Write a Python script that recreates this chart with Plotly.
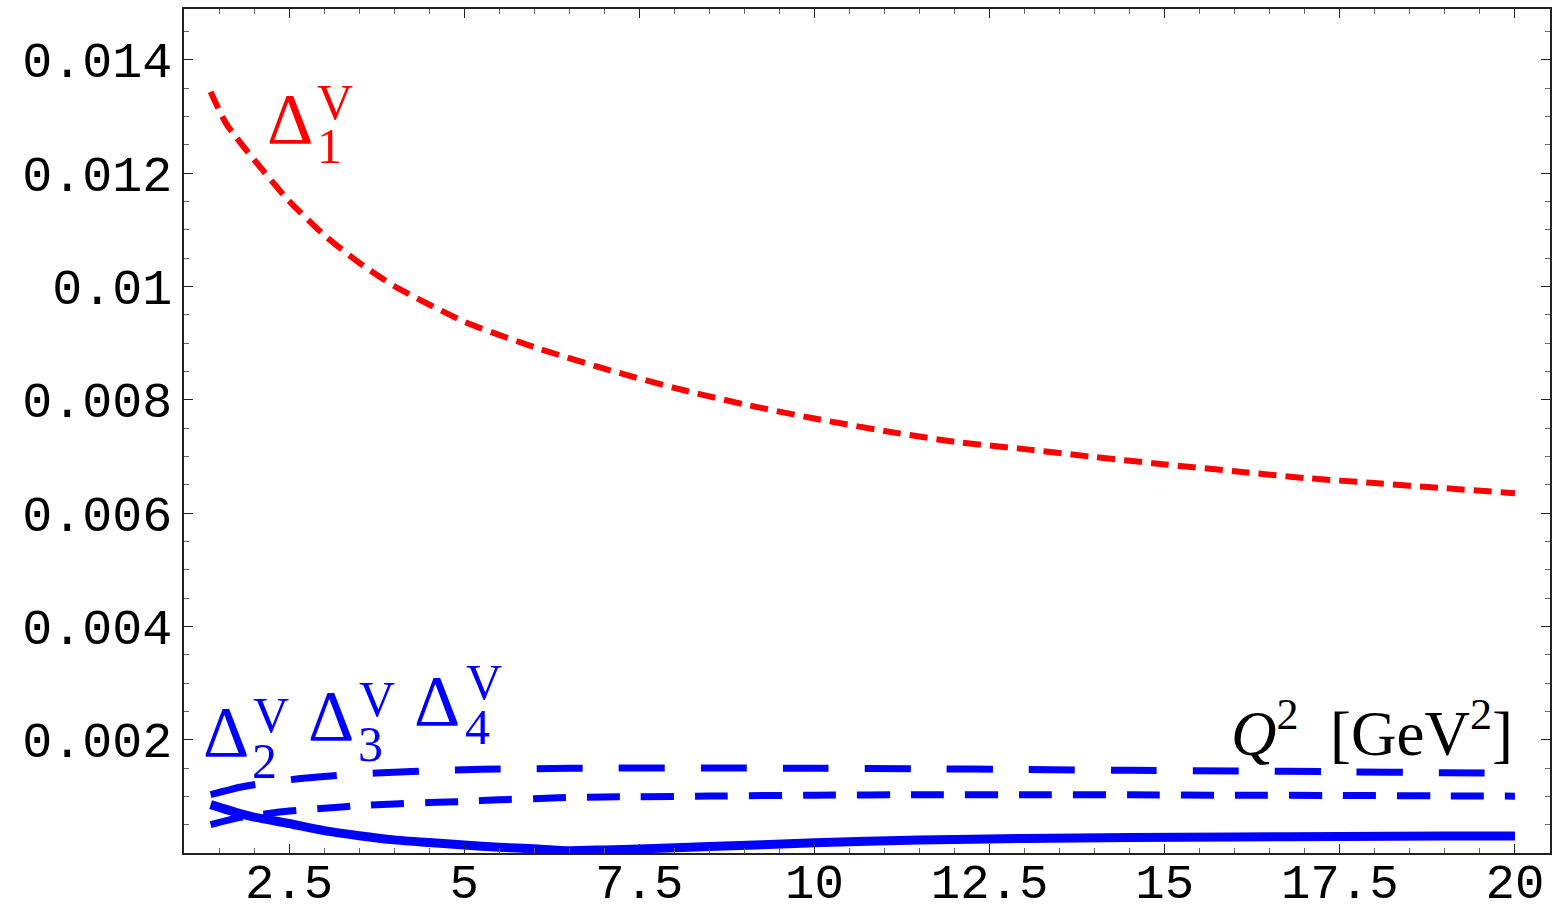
import plotly.graph_objects as go
import numpy as np

# ---------------- data ----------------
q2_red = [1.38, 1.6, 2.0, 2.5, 3.0, 3.5, 4.0, 5.0, 6.0, 7.0, 8.0, 9.0, 10.0, 11.0, 12.0, 13.0, 14.0, 15.0, 16.0, 17.0, 18.0, 19.0, 20.0]
delta1 = [0.01344, 0.01288, 0.01224, 0.01151, 0.01091, 0.01042, 0.01001, 0.00938, 0.00893, 0.00855, 0.00821, 0.00792, 0.00767, 0.00745, 0.00726, 0.00713, 0.00699, 0.00686, 0.00674, 0.00662, 0.00653, 0.00644, 0.00635]

q2_blue = [1.38, 1.8, 2.0, 2.5, 3.0, 3.5, 4.0, 4.5, 5.0, 5.5, 6.0, 6.5, 7.0, 7.5, 8.5, 10.0, 11.5, 13.0, 14.5, 16.0, 17.5, 19.0, 20.0]
delta2 = [0.000854, 0.000695, 0.000635, 0.000520, 0.000396, 0.000306, 0.000232, 0.000184, 0.000140, 0.000102, 0.000073, 0.000040, 0.000055, 0.000072, 0.000113, 0.000180, 0.000228, 0.000256, 0.000272, 0.000284, 0.000292, 0.000298, 0.000302]
delta3 = [0.000501, 0.000628, 0.000665, 0.000740, 0.000790, 0.000836, 0.000865, 0.000890, 0.000910, 0.000940, 0.000958, 0.000980, 0.000990, 0.000992, 0.001005, 0.001020, 0.001030, 0.001030, 0.001028, 0.001020, 0.001016, 0.001008, 0.001004]
delta4 = [0.001030, 0.001160, 0.001206, 0.001292, 0.001350, 0.001395, 0.001425, 0.001452, 0.001470, 0.001482, 0.001489, 0.001494, 0.001498, 0.001500, 0.001500, 0.001496, 0.001488, 0.001474, 0.001460, 0.001448, 0.001434, 0.001418, 0.001408]

x_tickvals = [2.5, 5, 7.5, 10, 12.5, 15, 17.5, 20]
x_ticktext = ["2.5", "5", "7.5", "10", "12.5", "15", "17.5", "20"]
y_tickvals = [0.002, 0.004, 0.006, 0.008, 0.010, 0.012, 0.014]
y_ticktext = ["0.002", "0.004", "0.006", "0.008", "0.01", "0.012", "0.014"]

RED = "#ff0000"
BLUE = "#0000ff"

fig = go.Figure()
fig.add_trace(go.Scatter(x=q2_red, y=delta1, mode="lines", line=dict(color=RED, width=6, dash="18px,9px", shape="spline", smoothing=0.6), showlegend=False))
fig.add_trace(go.Scatter(x=q2_blue, y=delta4, mode="lines", line=dict(color=BLUE, width=7, dash="46px,36px", shape="spline", smoothing=0.6), showlegend=False))
fig.add_trace(go.Scatter(x=q2_blue, y=delta3, mode="lines", line=dict(color=BLUE, width=7, dash="33px,21px", shape="spline", smoothing=0.6), showlegend=False))
fig.add_trace(go.Scatter(x=q2_blue, y=delta2, mode="lines", line=dict(color=BLUE, width=9, shape="spline", smoothing=0.6), showlegend=False))

SERIF = "Liberation Serif"
def label(fig, xd, yd, xv, yv, xs, ys, sub, color):
    fig.add_annotation(x=xd, y=yd, text="Δ", showarrow=False, xanchor="center", yanchor="middle",
                       font=dict(family=SERIF, size=72, color=color))
    fig.add_annotation(x=xv, y=yv, text="V", showarrow=False, xanchor="center", yanchor="middle",
                       font=dict(family=SERIF, size=50, color=color))
    fig.add_annotation(x=xs, y=ys, text=sub, showarrow=False, xanchor="center", yanchor="middle",
                       font=dict(family=SERIF, size=50, color=color))

label(fig, 2.511, 0.012964, 3.153, 0.013255, 3.082, 0.012487, "1", RED)
label(fig, 1.597, 0.002134, 2.239, 0.002434, 2.154, 0.001631, "2", BLUE)
label(fig, 3.096, 0.002417, 3.753, 0.002717, 3.667, 0.001931, "3", BLUE)
label(fig, 4.617, 0.002690, 5.280, 0.003017, 5.188, 0.002222, "4", BLUE)

fig.add_annotation(x=20.0, y=0.002178, text="<i>Q</i><sup>2</sup>\u00a0\u00a0[GeV<sup>2</sup>]", showarrow=False,
                   xanchor="right", yanchor="middle", font=dict(family=SERIF, size=63, color="black"))

axis_common = dict(showline=True, linecolor="#222", linewidth=1.5, mirror="allticks",
                   ticks="inside", ticklen=9, tickwidth=1, tickcolor="#222",
                   showgrid=False, zeroline=False, automargin=False)

fig.update_xaxes(range=[1, 20.5], tickmode="array", tickvals=x_tickvals, ticktext=x_ticktext,
                 tickfont=dict(family="Liberation Mono", size=49, color="black"),
                 minor=dict(tickmode="array", tickvals=list(np.arange(1.5, 20.5, 0.5)), ticks="inside", ticklen=5, tickcolor="#666", tickwidth=1),
                 ticklabelstandoff=-16, **axis_common)
fig.update_yaxes(range=[0, 0.0149], tickmode="array", tickvals=y_tickvals, ticktext=y_ticktext,
                 tickfont=dict(family="Liberation Mono", size=50, color="black"),
                 minor=dict(tickmode="array", tickvals=list(np.arange(0.0005, 0.0149, 0.0005)), ticks="inside", ticklen=5, tickcolor="#666", tickwidth=1),
                 ticklabelstandoff=0, **axis_common)

fig.update_layout(width=1555, height=909, margin=dict(l=184, r=5, t=9, b=56),
                  plot_bgcolor="white", paper_bgcolor="white")

fig.write_html("out.html")
